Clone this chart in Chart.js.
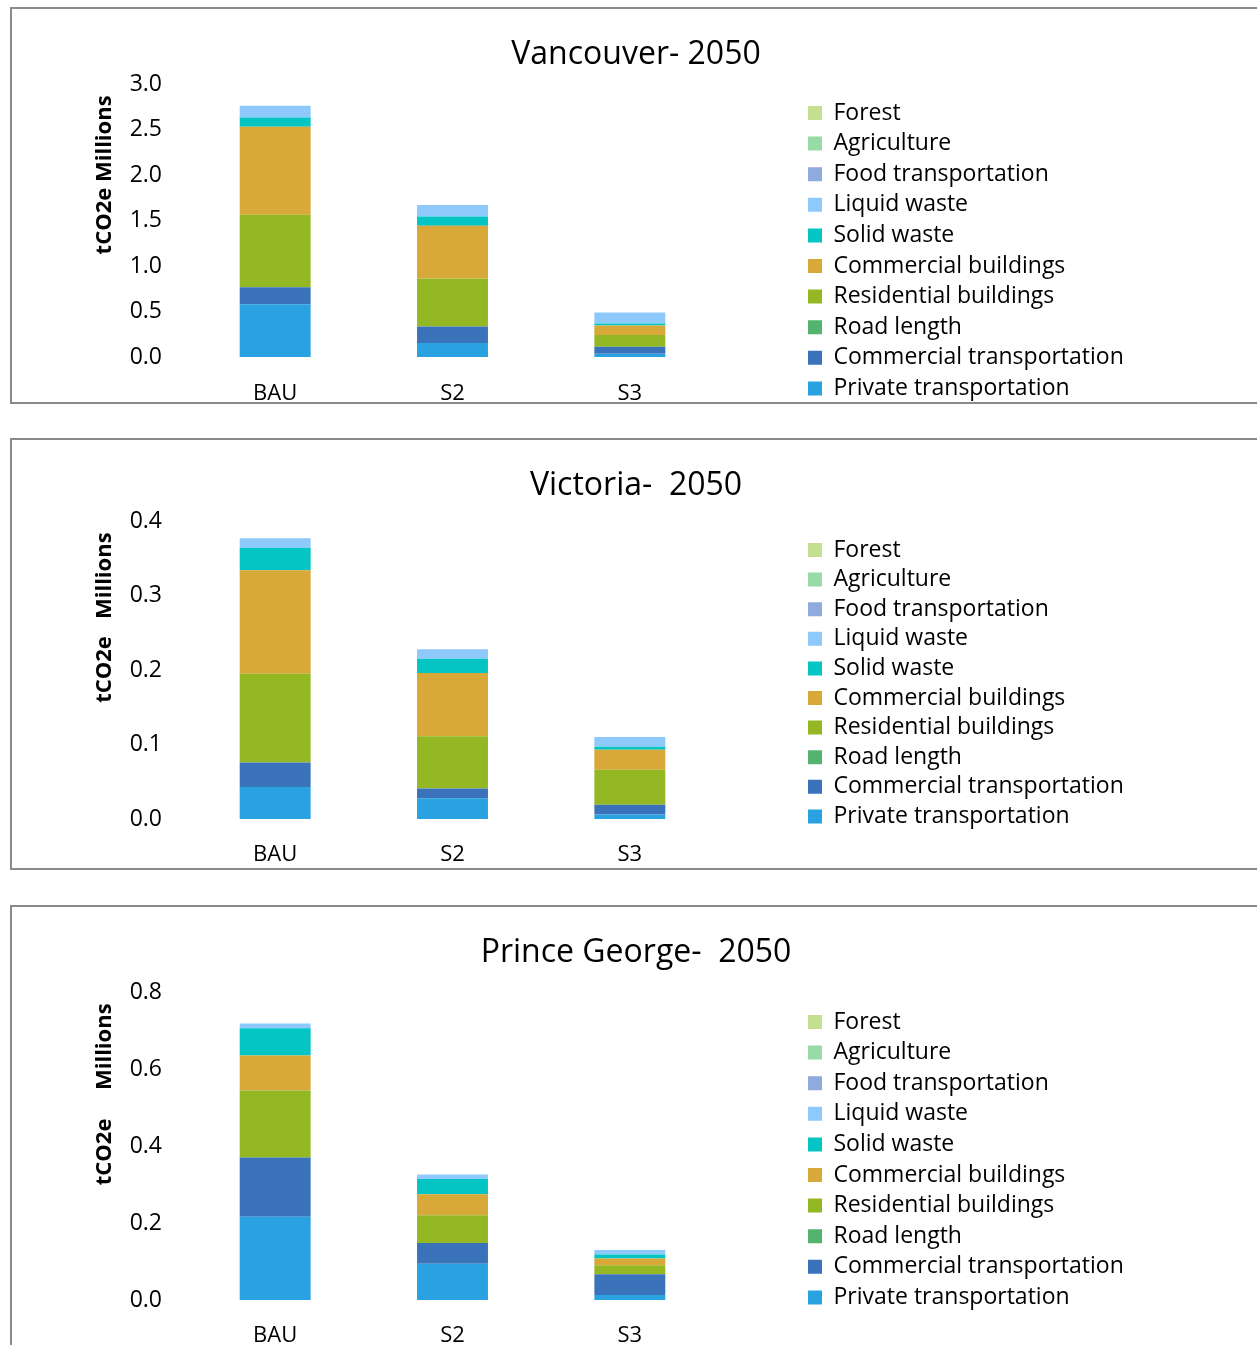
<!DOCTYPE html>
<html>
<head>
<meta charset="utf-8">
<script src="https://cdn.jsdelivr.net/npm/chart.js@4"></script>
<style>
  html, body { margin:0; padding:0; background:#fff; overflow:hidden; width:1257px; height:1345px; }
  .panel { position:absolute; left:10px; width:1300px; border:2px solid #8a8a8a; box-sizing:border-box; }
  canvas { position:absolute; left:12px; }
</style>
</head>
<body>
<div class="panel" style="top:7px;height:397px"></div>
<div class="panel" style="top:438px;height:432px"></div>
<div class="panel" style="top:905px;height:500px"></div>
<canvas id="vanChart" width="1248" height="393" style="top:9px"></canvas>
<canvas id="vicChart" width="1248" height="428" style="top:440px"></canvas>
<canvas id="pgChart" width="1248" height="438" style="top:907px"></canvas>
<script>
// scenarios on the x axis
const scenarios = ['BAU', 'S2', 'S3'];

// sectors, bottom of the stack first
const sectors = ['Private transportation', 'Commercial transportation', 'Road length',
  'Residential buildings', 'Commercial buildings', 'Solid waste', 'Liquid waste',
  'Food transportation', 'Agriculture', 'Forest'];
const sectorColors = ['#2AA1E0', '#3B73BA', '#54B36E', '#93B823', '#D8A839',
  '#04C5C3', '#8DC9FB', '#8FAADC', '#98DBA6', '#C4DF8F'];

// tCO2e millions, one value per sector (same order as sectors)
const vanBAU = [0.580, 0.187, 0, 0.795, 0.967, 0.102, 0.129, 0, 0, 0];
const vanS2  = [0.154, 0.182, 0, 0.527, 0.579, 0.102, 0.125, 0, 0, 0];
const vanS3  = [0.036, 0.077, 0, 0.129, 0.105, 0.022, 0.121, 0, 0, 0];

const vicBAU = [0.043, 0.033, 0, 0.119, 0.139, 0.030, 0.013, 0, 0, 0];
const vicS2  = [0.028, 0.013, 0, 0.070, 0.085, 0.019, 0.013, 0, 0, 0];
const vicS3  = [0.006, 0.013, 0, 0.047, 0.027, 0.004, 0.013, 0, 0, 0];

const pgBAU = [0.216, 0.154, 0, 0.174, 0.091, 0.071, 0.012, 0, 0, 0];
const pgS2  = [0.094, 0.054, 0, 0.072, 0.055, 0.039, 0.012, 0, 0, 0];
const pgS3  = [0.013, 0.054, 0, 0.023, 0.018, 0.010, 0.012, 0, 0, 0];

// tick labels
const vanTicks = ['0.0', '0.5', '1.0', '1.5', '2.0', '2.5', '3.0'];
const vicTicks = ['0.0', '0.1', '0.2', '0.3', '0.4'];
const pgTicks  = ['0.0', '0.2', '0.4', '0.6', '0.8'];

Chart.defaults.font.family = "'Open Sans', sans-serif";
Chart.defaults.color = '#000';

// puts the legend block where the original has it
const placeLegend = {
  id: 'placeLegend',
  afterLayout(chart, args, opts) {
    const lg = chart.legend;
    const pad = opts.pad;
    lg.left = opts.x - pad;
    lg.right = lg.left + 440;
    lg.top = opts.y - pad - 11.5;
    lg.bottom = lg.top + 400;
  }
};

function makeChart(id, title, axisTitle, rows, ticks, max, step, c) {
  const datasets = sectors.map((s, k) => ({
    label: s,
    data: rows.map(r => r[k]),
    backgroundColor: sectorColors[k],
    borderWidth: 0,
    barPercentage: 0.4,
    categoryPercentage: 1.0
  }));
  return new Chart(document.getElementById(id), {
    type: 'bar',
    data: { labels: scenarios, datasets: datasets },
    plugins: [placeLegend],
    options: {
      responsive: false,
      animation: false,
      layout: { padding: 0 },
      plugins: {
        title: { display: true, text: title, font: { size: 32, weight: 'normal' },
          padding: { top: 26.3, bottom: c.titleBottom - 2.5 } },
        legend: { position: 'right', align: 'start', reverse: true, maxWidth: 200,
          labels: { boxWidth: 14, boxHeight: 14, padding: c.legPad, font: { size: 23 } } },
        placeLegend: { x: 796, y: c.legY, pad: c.legPad },
        tooltip: { enabled: false }
      },
      scales: {
        x: {
          stacked: true,
          grid: { display: false, drawTicks: false },
          border: { display: false },
          ticks: { font: { size: 22 }, padding: c.xPad },
          afterFit(s) { s.height = c.xH; }
        },
        y: {
          stacked: true,
          min: 0, max: max,
          grid: { display: false, drawTicks: false },
          border: { display: false },
          ticks: { stepSize: step, font: { size: 23 }, padding: 24.5,
            callback: (v, i) => ticks[i] },
          title: { display: true, text: axisTitle, align: 'end',
            font: { size: 22, weight: 'bold' }, padding: { top: 79.8, bottom: 0 } },
          afterFit(s) { s.width = 174.5; }
        },
        gap: {
          position: 'right', display: true,
          grid: { display: false, drawTicks: false },
          border: { display: false },
          ticks: { display: false },
          afterFit(s) { s.width = 341.5; }
        }
      }
    }
  });
}

makeChart('vanChart', 'Vancouver- 2050', 'tCO2e Millions  ', [vanBAU, vanS2, vanS3],
  vanTicks, 3, 0.5, { titleBottom: 12.8, xH: 45, xPad: 24, legPad: 7.6, legY: 104 });
makeChart('vicChart', 'Victoria-  2050', 'tCO2e   Millions  ', [vicBAU, vicS2, vicS3],
  vicTicks, 0.4, 0.1, { titleBottom: 18.8, xH: 49, xPad: 23, legPad: 6.6, legY: 110 });
makeChart('pgChart', 'Prince George-  2050', 'tCO2e     Millions  ', [pgBAU, pgS2, pgS3],
  pgTicks, 0.8, 0.2, { titleBottom: 22.8, xH: 45, xPad: 22.5, legPad: 7.6, legY: 115 });
</script>
</body>
</html>
